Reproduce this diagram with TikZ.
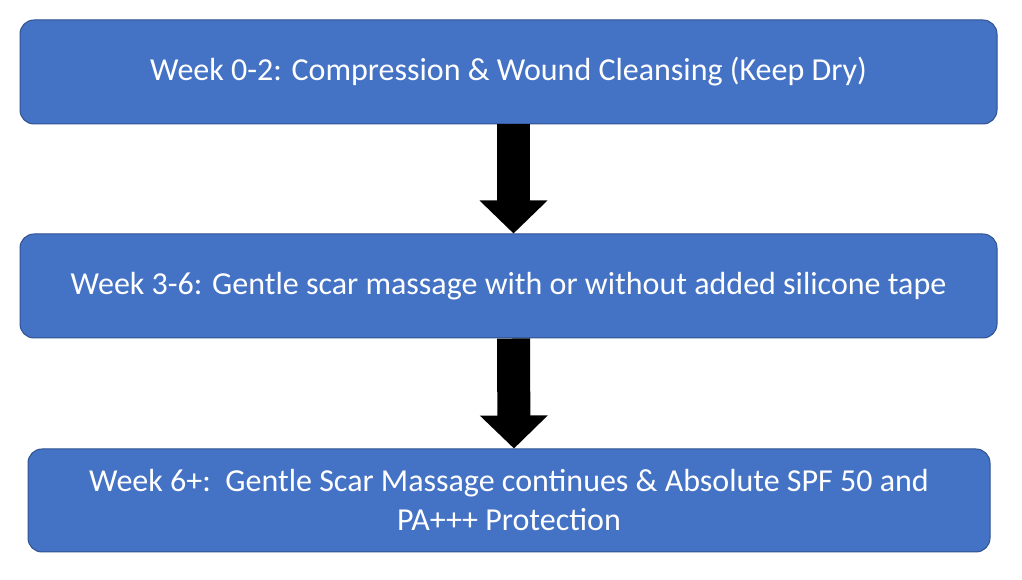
\documentclass[tikz,border=0pt]{standalone}
\usepackage{fontspec}
\setmainfont{Carlito}
\usetikzlibrary{arrows.meta}
\definecolor{boxfill}{HTML}{4472C4}
\definecolor{boxline}{HTML}{2F528F}
\begin{document}
\begin{tikzpicture}[x=1pt,y=1pt,
  box/.style={draw=boxline,line width=1pt,fill=boxfill,rounded corners=14pt,text=white,
    font=\fontsize{32}{39}\selectfont,align=center,inner sep=0pt},
  flow/.style={draw=black,line width=33pt,-{Triangle[width=66pt,length=33pt]}}]
\useasboundingbox (0,0) rectangle (1022,580);
\node[box,minimum width=977pt,minimum height=104pt] (a) at (508.5,508) {Week 0-2: Compression \& Wound Cleansing (Keep Dry)};
\node[box,minimum width=977pt,minimum height=104pt] (b) at (508.5,294) {Week 3-6: Gentle scar massage with or without added silicone tape};
\node[box,minimum width=962pt,minimum height=103pt] (c) at (509,79.5) {Week 6+:\ \ Gentle Scar Massage continues \& Absolute SPF 50 and\\PA+++ Protection};
\draw[flow] ([xshift=5pt]a.south) -- ([xshift=5pt]b.north);
\draw[flow] ([xshift=5pt]b.south) -- ([xshift=5pt]c.north);
\end{tikzpicture}
\end{document}
